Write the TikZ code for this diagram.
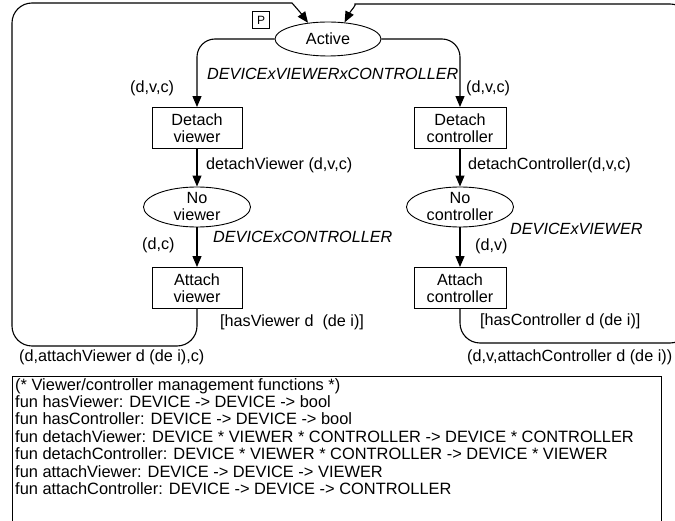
\documentclass[tikz,border=0pt]{standalone}
\usepackage{fontspec}
\setmainfont{Liberation Sans}
\usetikzlibrary{arrows.meta,shapes.geometric}

\begin{document}
\begin{tikzpicture}[x=1pt,y=-1pt,
  font=\fontsize{16.2}{17}\selectfont,
  trans/.style={draw, line width=0.9pt, minimum width=90pt, minimum height=41pt,
    inner sep=0pt, align=center},
  place/.style={draw, ellipse, line width=0.9pt, minimum width=107pt,
    minimum height=40pt, inner sep=0pt, align=center},
  arc/.style={line width=1.1pt, -{Triangle[width=9pt,length=11pt]}},
  lbl/.style={inner sep=0pt, anchor=west},
  ty/.style={lbl, font=\fontsize{16.2}{17}\selectfont\itshape}
]
\useasboundingbox (0,0) rectangle (675,521);

% places and transitions
\node[draw, line width=0.7pt, minimum size=17pt, inner sep=0pt,
  font=\fontsize{12}{12}\selectfont] (pin) at (261,20) {P};
\node[place, minimum width=106pt, minimum height=34pt] (active) at (328,39) {Active};
\node[trans] (dv) at (197,128) {Detach\\viewer};
\node[trans, minimum width=92pt] (dc) at (460,128) {Detach\\controller};
\node[place] (nv) at (197,207) {No\\viewer};
\node[place] (nc) at (460,207) {No\\controller};
\node[trans] (av) at (197,288) {Attach\\viewer};
\node[trans, minimum width=92pt] (ac) at (460,288) {Attach\\controller};

% arcs
\draw[arc, rounded corners=18pt] (active.west) -| (dv.north);
\draw[arc, rounded corners=18pt] (active.east) -| (dc.north);
\draw[arc] (dv) -- (nv);
\draw[arc] (nv) -- (av);
\draw[arc] (dc) -- (nc);
\draw[arc] (nc) -- (ac);
\draw[arc, rounded corners=20pt] (av.south) -- (197,346) -- (12,346) -- (12,3)
  -- (272,3) .. controls (292,3) and (300,12) .. (active.141);
\draw[arc, rounded corners=20pt] (ac.south) -- (460,343) -- (690,343) -- (690,4)
  -- (375,4) .. controls (357,4) and (350,12) .. (active.45);

% colour sets and inscriptions
\node[ty] (t-active) at (207,74) {DEVICExVIEWERxCONTROLLER};
\node[ty] (t-nv) at (213,237) {DEVICExCONTROLLER};
\node[ty] (t-nc) at (510,229) {DEVICExVIEWER};
\node[lbl] (e1) at (130,88) {(d,v,c)};
\node[lbl] (e2) at (466,88) {(d,v,c)};
\node[lbl] (e3) at (206,165) {detachViewer (d,v,c)};
\node[lbl] (e4) at (468,165) {detachController(d,v,c)};
\node[lbl] (e5) at (142,245) {(d,c)};
\node[lbl] (e6) at (475,246) {(d,v)};
\node[lbl] (g1) at (220,322) {[hasViewer d\ \ (de i)]};
\node[lbl] (g2) at (480,321) {[hasController d (de i)]};
\node[lbl] (e7) at (19,357) {(d,attachViewer d (de i),c)};
\node[lbl] (e8) at (467,357) {(d,v,attachController d (de i))};

% declarations
\draw[line width=0.8pt] (12,530) -- (12,376) -- (661,376) -- (661,530);
\node[anchor=north west, align=left, inner sep=0pt,
  font=\fontsize{16.4}{17.4}\selectfont] (decl) at (15,378) {%
(* Viewer/controller management functions *)\\
fun hasViewer: DEVICE -> DEVICE -> bool\\
fun hasController: DEVICE -> DEVICE -> bool\\
fun detachViewer: DEVICE * VIEWER * CONTROLLER -> DEVICE * CONTROLLER\\
fun detachController: DEVICE * VIEWER * CONTROLLER -> DEVICE * VIEWER\\
fun attachViewer: DEVICE -> DEVICE -> VIEWER\\
fun attachController: DEVICE -> DEVICE -> CONTROLLER};
\end{tikzpicture}
\end{document}
